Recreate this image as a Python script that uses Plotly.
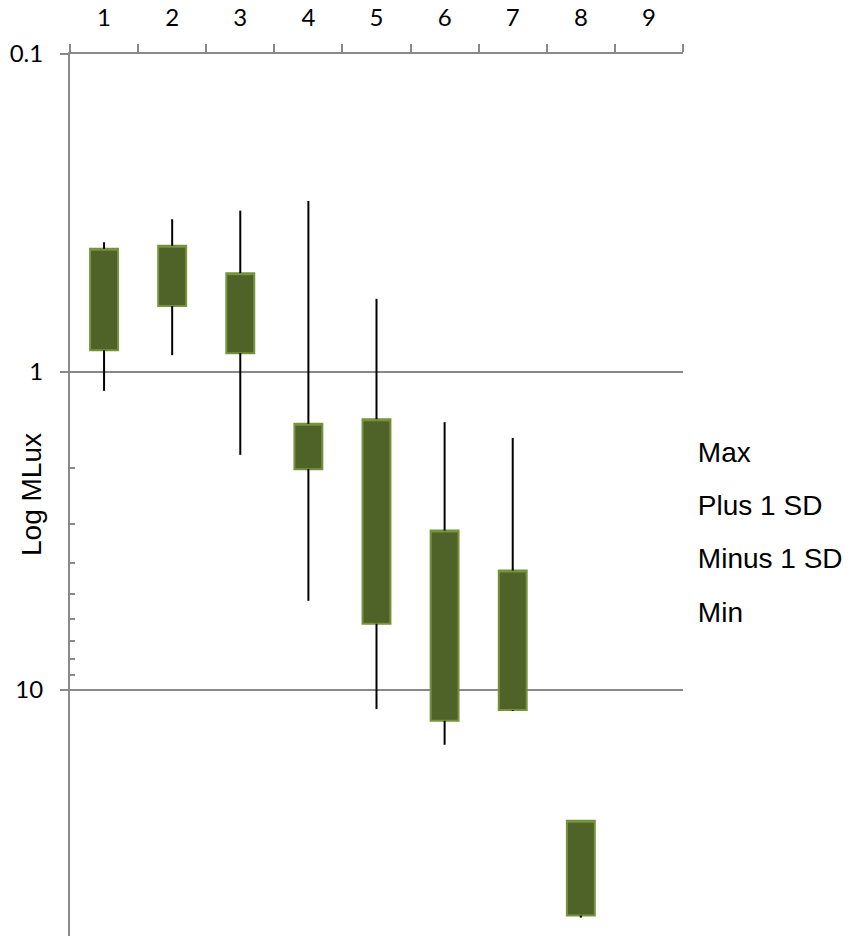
import math
import plotly.graph_objects as go

# ---- data ----
categories = ["1", "2", "3", "4", "5", "6", "7", "8", "9"]
data_cats = ["1", "2", "3", "4", "5", "6", "7", "8"]
max_vals = [0.391, 0.331, 0.311, 0.290, 0.589, 1.439, 1.613, 25.8]
plus_sd = [0.410, 0.401, 0.489, 1.457, 1.408, 3.156, 4.215, 25.8]
minus_sd = [0.855, 0.621, 0.873, 2.023, 6.20, 12.52, 11.58, 51.3]
min_vals = [1.147, 0.886, 1.824, 5.25, 11.5, 14.89, 11.65, 52.1]
series_names = ["Max", "Plus 1 SD", "Minus 1 SD", "Min"]

y_tickvals = [0.1, 1, 10]
y_ticktext = ["0.1", "1", "10"]
y_minor = [2, 3, 4, 5, 6, 7, 8, 9]
y_range_vals = (0.1, 59.5)
y_title = "Log MLux"

GRAY = "#898989"
BOX_FILL = "#4F6228"
BOX_LINE = "#77933C"

fig = go.Figure()

# whiskers: upper part (max -> +1 SD) and lower part (-1 SD -> min)
wx, wy = [], []
for c, hi, top, bot, lo in zip(data_cats, max_vals, plus_sd, minus_sd, min_vals):
    wx += [c, c, None, c, c, None]
    wy += [hi, top, None, bot, lo, None]
fig.add_trace(go.Scatter(x=wx, y=wy, mode="lines",
                         line=dict(color="black", width=2),
                         showlegend=False, hoverinfo="skip"))

# boxes between +1 SD and -1 SD
fig.add_trace(go.Box(x=data_cats, q1=plus_sd, median=plus_sd, q3=minus_sd,
                     lowerfence=plus_sd, upperfence=minus_sd,
                     width=0.41, fillcolor=BOX_FILL,
                     line=dict(color=BOX_LINE, width=2),
                     boxpoints=False, showlegend=False))

# legend series (text-only legend entries tied to the four series)
for name, vals in zip(series_names, [max_vals, plus_sd, minus_sd, min_vals]):
    fig.add_trace(go.Scatter(x=data_cats, y=vals, mode="markers", name=name,
                             marker=dict(color="rgba(0,0,0,0)", size=1),
                             legendgroup=name, hoverinfo="skip"))

fig.add_annotation(text=y_title, textangle=-90, xref="paper", yref="paper",
                   x=(31 - 70) / 613, y=0.5, xanchor="center", yanchor="middle",
                   showarrow=False,
                   font=dict(family="Liberation Sans, Arial", size=28, color="black"))

fig.update_layout(
    width=851, height=937,
    margin=dict(l=70, r=168, t=54, b=1, autoexpand=False),
    paper_bgcolor="white", plot_bgcolor="white",
    font=dict(family="Liberation Sans, Arial", size=28, color="black"),
    showlegend=True,
    legend=dict(x=0.959, xanchor="left", y=0.5782, yanchor="top",
                bgcolor="rgba(0,0,0,0)", itemwidth=30,
                tracegroupgap=14, font=dict(size=28)),
    xaxis=dict(type="category", categoryorder="array", categoryarray=categories,
               range=[-0.5, 8.5], side="top", showline=True, linecolor=GRAY,
               linewidth=2, ticks="outside", tickson="boundaries", ticklen=8,
               tickwidth=2, tickcolor=GRAY, showgrid=False, zeroline=False,
               tickfont=dict(family="Lato", size=24, color="black"),
               ticklabelstandoff=16, automargin=False, fixedrange=True),
    yaxis=dict(type="log",
               range=[math.log10(y_range_vals[1]), math.log10(y_range_vals[0])],
               tickvals=y_tickvals, ticktext=y_ticktext,
               showline=True, linecolor=GRAY, linewidth=2,
               ticks="outside", ticklen=8, tickwidth=2, tickcolor=GRAY,
               showgrid=True, gridcolor=GRAY, gridwidth=2, zeroline=False,
               tickfont=dict(family="Lato", size=24, color="black"),
               ticklabelstandoff=12, automargin=False,
               minor=dict(tickmode="array", tickvals=y_minor, ticks="inside",
                          ticklen=5, tickwidth=2, tickcolor=GRAY, showgrid=False),
               fixedrange=True),
)

fig.write_html("out.html",
               config={"displayModeBar": False},
               post_script="document.body.style.margin='0px';"
                           "document.body.style.overflow='hidden';")
